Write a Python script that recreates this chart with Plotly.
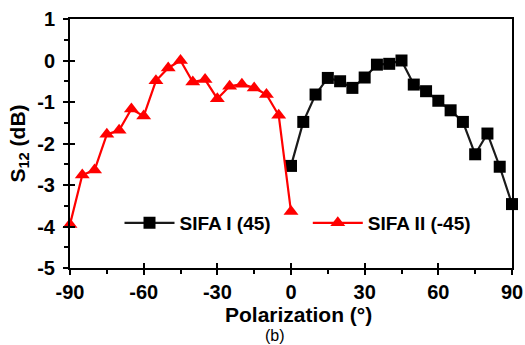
import plotly.graph_objects as go

# Polarization angles (degrees) and measured S12 (dB)
pol_sifa1 = [0, 5, 10, 15, 20, 25, 30, 35, 40, 45, 50, 55, 60, 65, 70, 75, 80, 85, 90]
s12_sifa1 = [-2.54, -1.48, -0.82, -0.42, -0.50, -0.66, -0.41, -0.10, -0.08, 0.0,
             -0.58, -0.74, -0.97, -1.20, -1.48, -2.26, -1.76, -2.56, -3.46]

pol_sifa2 = [-90, -85, -80, -75, -70, -65, -60, -55, -50, -45, -40, -35, -30, -25,
             -20, -15, -10, -5, 0]
s12_sifa2 = [-3.95, -2.76, -2.64, -1.78, -1.68, -1.17, -1.34, -0.49, -0.18, 0.0,
             -0.52, -0.46, -0.92, -0.62, -0.57, -0.66, -0.82, -1.32, -3.64]

x_ticks = [-90, -60, -30, 0, 30, 60, 90]
y_ticks = [-5, -4, -3, -2, -1, 0, 1]
x_range = [-90, 90]
y_range = [-5, 1]

font_family = "Liberation Sans, Arial, sans-serif"

fig = go.Figure()
fig.add_trace(go.Scatter(
    x=pol_sifa1, y=s12_sifa1, mode="lines+markers", name="SIFA I (45)",
    line=dict(color="#1a1a1a", width=2.2),
    marker=dict(symbol="square", size=12, color="black"),
    cliponaxis=False, legend="legend",
))
fig.add_trace(go.Scatter(
    x=pol_sifa2, y=s12_sifa2, mode="lines+markers", name="SIFA II (-45)",
    line=dict(color="#ff0000", width=2.2),
    marker=dict(symbol="triangle-up", size=13, color="#ff0000"),
    cliponaxis=False, legend="legend2",
))
# empty trace that activates the overlay axes carrying the inner half of the major ticks
fig.add_trace(go.Scatter(x=[], y=[], xaxis="x2", yaxis="y2", showlegend=False,
                         hoverinfo="skip"))

axis_common = dict(
    showline=True, linecolor="black", linewidth=2, mirror=True,
    showgrid=False, zeroline=False, automargin=False,
    ticks="outside", ticklen=5, tickwidth=2, tickcolor="black",
    tickfont=dict(family=font_family, size=20, color="black", weight="bold"),
)

fig.update_layout(
    xaxis=dict(
        range=x_range, tickvals=x_ticks, ticktext=[str(v) for v in x_ticks],
        minor=dict(ticks="outside", dtick=15, tick0=-90, ticklen=4, tickwidth=2,
                   tickcolor="black"),
        **axis_common,
    ),
    yaxis=dict(
        range=y_range, tickvals=y_ticks, ticktext=[str(v) for v in y_ticks],
        minor=dict(ticks="outside", dtick=0.5, tick0=-5, ticklen=4, tickwidth=2,
                   tickcolor="black"),
        ticklabelstandoff=4,
        title=dict(text="S<sub>12</sub> (dB)", standoff=6,
                   font=dict(family=font_family, size=21, color="black", weight="bold")),
        **axis_common,
    ),
    xaxis2=dict(
        overlaying="x", anchor="y2", side="bottom", range=x_range,
        tickvals=x_ticks, ticks="inside", ticklen=5, tickwidth=2, tickcolor="black",
        showticklabels=False, showline=False, showgrid=False, zeroline=False,
        automargin=False,
    ),
    yaxis2=dict(
        overlaying="y", anchor="x2", side="left", range=y_range,
        tickvals=y_ticks, ticks="inside", ticklen=5, tickwidth=2, tickcolor="black",
        showticklabels=False, showline=False, showgrid=False, zeroline=False,
        automargin=False,
    ),
)

# x-axis title and panel label placed under the tick labels
fig.add_annotation(
    text="<b>Polarization (°)</b>", xref="paper", yref="paper", x=0.518, y=-0.186,
    xanchor="center", yanchor="middle", showarrow=False,
    font=dict(family=font_family, size=21, color="black"),
)
fig.add_annotation(
    text="(b)", xref="paper", yref="paper", x=0.464, y=-0.272,
    xanchor="center", yanchor="middle", showarrow=False,
    font=dict(family=font_family, size=16, color="black"),
)

legend_font = dict(family=font_family, size=19, color="black", weight="bold")
fig.update_layout(
    width=525, height=345,
    margin=dict(l=70, r=13, t=19, b=77),
    paper_bgcolor="white", plot_bgcolor="white",
    showlegend=True,
    legend=dict(
        x=0.112, y=0.181, xanchor="left", yanchor="middle",
        bgcolor="rgba(0,0,0,0)", itemwidth=50, font=legend_font,
    ),
    legend2=dict(
        x=0.538, y=0.181, xanchor="left", yanchor="middle",
        bgcolor="rgba(0,0,0,0)", itemwidth=50, font=legend_font,
    ),
)

fig.write_html("out.html")
